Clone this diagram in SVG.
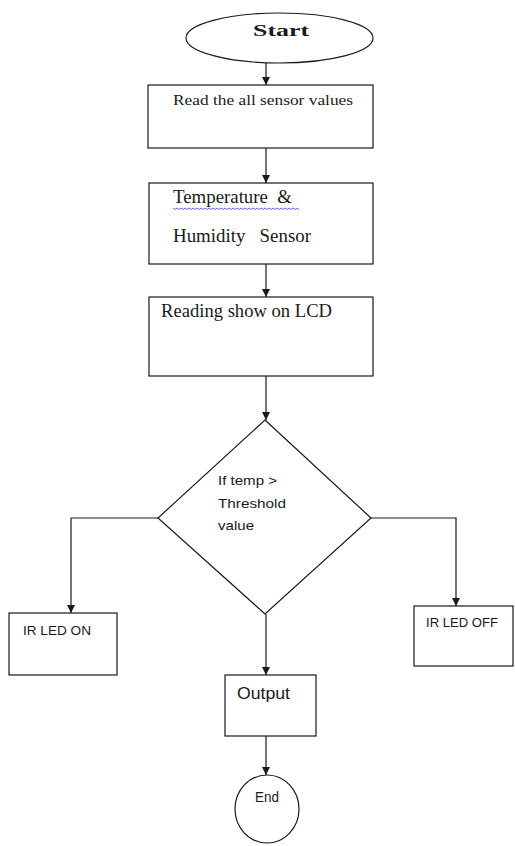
<svg xmlns="http://www.w3.org/2000/svg" width="515" height="846" viewBox="0 0 515 846">
  <style>
    .shape { fill: #fff; stroke: #1a1a1a; stroke-width: 1.2; }
    .conn { fill: none; stroke: #1a1a1a; stroke-width: 1.2; }
    .serif { font-family: "Liberation Serif", "Times New Roman", serif; fill: #1a1a1a; }
    .sans { font-family: "Liberation Sans", Arial, sans-serif; fill: #1a1a1a; }
  </style>
  <defs>
    <marker id="arrow" markerUnits="userSpaceOnUse" markerWidth="8" markerHeight="8" refX="8" refY="4" orient="auto">
      <path d="M0,0 L8,4 L0,8 z" fill="#1a1a1a"/>
    </marker>
  </defs>
  <rect width="515" height="846" fill="#fff"/>

  <g id="connectors">
    <path class="conn" d="M266,63 V85" marker-end="url(#arrow)"/>
    <path class="conn" d="M266,148 V183" marker-end="url(#arrow)"/>
    <path class="conn" d="M266,264 V297" marker-end="url(#arrow)"/>
    <path class="conn" d="M266,376 V420" marker-end="url(#arrow)"/>
    <path class="conn" d="M158,518 H71 V613" marker-end="url(#arrow)"/>
    <path class="conn" d="M371,518 H456 V606" marker-end="url(#arrow)"/>
    <path class="conn" d="M266,614 V675" marker-end="url(#arrow)"/>
    <path class="conn" d="M266,736 V775" marker-end="url(#arrow)"/>
  </g>

  <g id="start">
    <ellipse class="shape" cx="279.5" cy="38" rx="93.5" ry="25"/>
    <text class="serif" x="253" y="36" font-size="17" font-weight="bold" textLength="56" lengthAdjust="spacingAndGlyphs">Start</text>
  </g>

  <g id="read">
    <rect class="shape" x="148" y="85" width="225" height="63"/>
    <text class="serif" x="173" y="105" font-size="15" textLength="180" lengthAdjust="spacingAndGlyphs">Read the all sensor values</text>
  </g>

  <g id="sensor">
    <rect class="shape" x="149" y="183" width="224" height="81"/>
    <text class="serif" x="173" y="203" font-size="18" textLength="119" lengthAdjust="spacingAndGlyphs" xml:space="preserve">Temperature  &amp;</text>
    <path d="M173,208 l2,1.5 l2,-1.5 l2,1.5 l2,-1.5 l2,1.5 l2,-1.5 l2,1.5 l2,-1.5 l2,1.5 l2,-1.5 l2,1.5 l2,-1.5 l2,1.5 l2,-1.5 l2,1.5 l2,-1.5 l2,1.5 l2,-1.5 l2,1.5 l2,-1.5 l2,1.5 l2,-1.5 l2,1.5 l2,-1.5 l2,1.5 l2,-1.5 l2,1.5 l2,-1.5 l2,1.5 l2,-1.5 l2,1.5 l2,-1.5 l2,1.5 l2,-1.5 l2,1.5 l2,-1.5 l2,1.5 l2,-1.5 l2,1.5 l2,-1.5 l2,1.5 l2,-1.5 l2,1.5 l2,-1.5 l2,1.5 l2,-1.5 l2,1.5 l2,-1.5 l2,1.5 l2,-1.5 l2,1.5 l2,-1.5 l2,1.5 l2,-1.5 l2,1.5 l2,-1.5 l2,1.5 l2,-1.5 l2,1.5 l2,-1.5 l2,1.5 l2,-1.5 l2,1.5" fill="none" stroke="#3344dd" stroke-width="0.8"/>
    <text class="serif" x="173" y="242" font-size="18" textLength="138" lengthAdjust="spacingAndGlyphs" xml:space="preserve">Humidity   Sensor</text>
  </g>

  <g id="lcd">
    <rect class="shape" x="149" y="297" width="224" height="79"/>
    <text class="serif" x="161" y="317" font-size="18.5" textLength="171" lengthAdjust="spacingAndGlyphs">Reading show on LCD</text>
  </g>

  <g id="decision">
    <polygon class="shape" points="265,420 371,518 265,614 158,518"/>
    <text class="sans" x="218" y="485" font-size="13" textLength="59" lengthAdjust="spacingAndGlyphs">If temp &gt;</text>
    <text class="sans" x="218" y="508" font-size="13" textLength="68" lengthAdjust="spacingAndGlyphs">Threshold</text>
    <text class="sans" x="218" y="530" font-size="13" textLength="36" lengthAdjust="spacingAndGlyphs">value</text>
  </g>

  <g id="ledon">
    <rect class="shape" x="9" y="613" width="108" height="62"/>
    <text class="sans" x="23" y="635" font-size="13.5" textLength="68" lengthAdjust="spacingAndGlyphs">IR LED ON</text>
  </g>

  <g id="ledoff">
    <rect class="shape" x="414" y="606" width="99" height="60"/>
    <text class="sans" x="426" y="627" font-size="13" textLength="72" lengthAdjust="spacingAndGlyphs">IR LED OFF</text>
  </g>

  <g id="output">
    <rect class="shape" x="225" y="675" width="91" height="61"/>
    <text class="sans" x="237" y="699" font-size="16" textLength="53" lengthAdjust="spacingAndGlyphs">Output</text>
  </g>

  <g id="end">
    <ellipse class="shape" cx="267" cy="809" rx="32" ry="34"/>
    <text class="sans" x="255" y="802" font-size="14" textLength="24" lengthAdjust="spacingAndGlyphs">End</text>
  </g>
</svg>
